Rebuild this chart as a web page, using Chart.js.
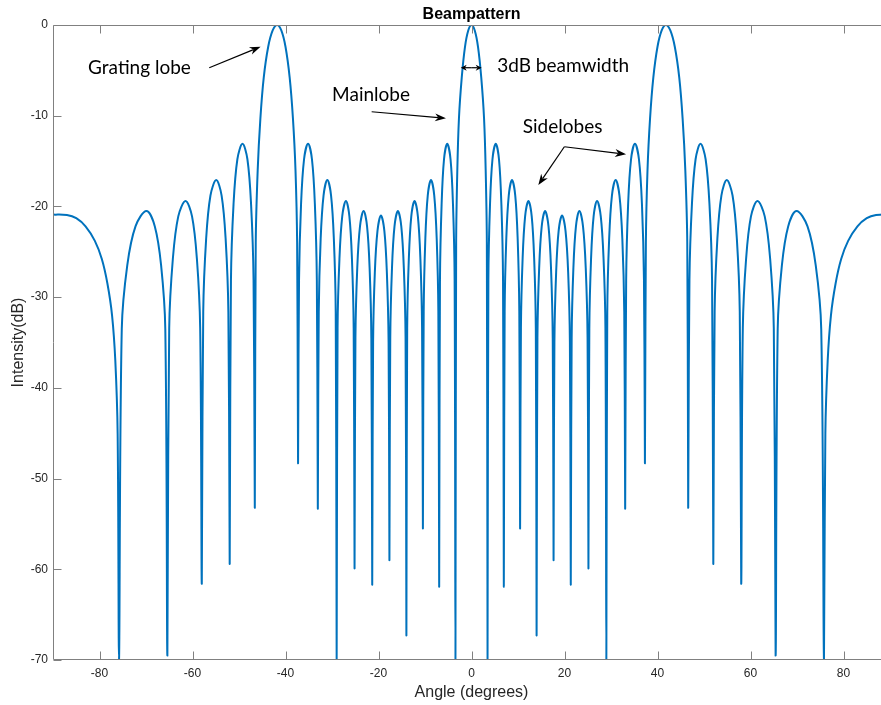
<!DOCTYPE html>
<html>
<head>
<meta charset="utf-8">
<script src="https://cdn.jsdelivr.net/npm/chart.js@4.4.1/dist/chart.umd.min.js"></script>
<style>
  html, body { margin: 0; padding: 0; background: #fff; overflow: hidden; }
  #wrap { position: relative; width: 890px; height: 705px; }
</style>
</head>
<body>
<div id="wrap"><canvas id="beamChart"></canvas></div>
<script>
// beam pattern, lobe by lobe (angle in degrees, level in dB)
const angleDeg = [
  -90, -87, -85, -83, -81, -79.5, -78.3, -77.3, -76.6, -76.1, -75.8,
  -75.21, -74.03, -72.26, -69.9, -68.1, -66.75, -65.85, -65.4,
  -65.01, -64.23, -63.06, -61.5, -60.1, -59.05, -58.35, -58.0,
  -57.69, -57.07, -56.14, -54.9, -53.74, -52.87, -52.29, -52.0,
  -51.73, -51.18, -50.35, -49.25, -48.19, -47.4, -46.87, -46.6,
  -46.4, -45.98, -45.4, -44.68, -43.72, -42.76, -41.8, -40.9, -40.0, -39.1, -38.4, -37.85, -37.5, -37.3,
  -37.09, -36.66, -36.01, -35.15, -34.31, -33.68, -33.26, -33.05,
  -32.85, -32.44, -31.82, -31.0, -30.2, -29.6, -29.2, -29.0,
  -28.8, -28.4, -27.8, -27.0, -26.26, -25.71, -25.34, -25.15,
  -24.96, -24.57, -23.98, -23.2, -22.46, -21.91, -21.54, -21.35,
  -21.16, -20.79, -20.22, -19.47, -18.74, -18.2, -17.83, -17.65,
  -17.47, -17.1, -16.56, -15.83, -15.1, -14.55, -14.18, -14.0,
  -13.83, -13.48, -12.95, -12.25, -11.53, -10.99, -10.63, -10.45,
  -10.28, -9.93, -9.41, -8.71, -8.01, -7.48, -7.13, -6.95,
  -6.78, -6.43, -5.91, -5.22, -4.51, -3.98, -3.63, -3.45,
  -3.3, -3.05, -2.7, -2.1, -1.4, -0.7, 0, 0.7, 1.4, 2.1, 2.7, 3.05, 3.3,
  3.45, 3.63, 3.98, 4.51, 5.22, 5.91, 6.43, 6.78,
  6.95, 7.13, 7.48, 8.01, 8.71, 9.41, 9.93, 10.28,
  10.45, 10.63, 10.99, 11.53, 12.25, 12.95, 13.48, 13.83,
  14.0, 14.18, 14.55, 15.1, 15.83, 16.56, 17.1, 17.47,
  17.65, 17.83, 18.2, 18.74, 19.47, 20.22, 20.79, 21.16,
  21.35, 21.54, 21.91, 22.46, 23.2, 23.98, 24.57, 24.96,
  25.15, 25.34, 25.71, 26.26, 27.0, 27.8, 28.4, 28.8,
  29.0, 29.2, 29.6, 30.2, 31.0, 31.82, 32.44, 32.85,
  33.05, 33.26, 33.68, 34.31, 35.15, 36.01, 36.66, 37.09,
  37.3, 37.5, 37.85, 38.4, 39.1, 40.0, 40.9, 41.8, 42.76, 43.72, 44.68, 45.4, 45.98, 46.4,
  46.6, 46.87, 47.4, 48.19, 49.25, 50.35, 51.18, 51.73,
  52.0, 52.29, 52.87, 53.74, 54.9, 56.14, 57.07, 57.69,
  58.0, 58.35, 59.05, 60.1, 61.5, 63.06, 64.23, 65.01,
  65.4, 65.85, 66.75, 68.1, 69.9, 72.26, 74.03, 75.21,
  75.8, 76.1, 76.6, 77.3, 78.3, 79.5, 81, 83, 85, 87, 90
];
const intensityDb = [
  -20.9, -20.95, -21.3, -22.2, -23.8, -25.8, -28.5, -32, -37, -45, -70,
  -33.5, -26.5, -22.2, -20.5, -22.2, -26.5, -33.5, -69.5,
  -33.4, -25.8, -21.1, -19.4, -21.1, -25.8, -33.4, -61.6,
  -31.6, -23.6, -18.8, -17.1, -18.8, -23.6, -31.6, -59.4,
  -28.1, -19.8, -14.8, -13.1, -14.8, -19.8, -28.1, -53.2,
  -24, -16, -10.3, -5.8, -2.4, -0.6, 0, -0.6, -2.4, -5.8, -10.3, -16, -24, -48.3,
  -28.1, -19.8, -14.8, -13.1, -14.8, -19.8, -28.1, -53.3,
  -31.6, -23.6, -18.8, -17.1, -18.8, -23.6, -31.6, -70,
  -33.4, -25.8, -21.1, -19.4, -21.1, -25.8, -33.4, -59.9,
  -34.5, -26.8, -22.2, -20.5, -22.2, -26.8, -34.5, -61.7,
  -35.0, -27.3, -22.7, -21.0, -22.7, -27.3, -35.0, -59.0,
  -34.5, -26.8, -22.2, -20.5, -22.2, -26.8, -34.5, -67.3,
  -33.4, -25.8, -21.1, -19.4, -21.1, -25.8, -33.4, -55.5,
  -31.6, -23.6, -18.8, -17.1, -18.8, -23.6, -31.6, -61.9,
  -28.1, -19.8, -14.8, -13.1, -14.8, -19.8, -28.1, -70,
  -24, -16, -10.3, -5.8, -2.4, -0.6, 0, -0.6, -2.4, -5.8, -10.3, -16, -24,
  -70, -28.1, -19.8, -14.8, -13.1, -14.8, -19.8, -28.1,
  -61.9, -31.6, -23.6, -18.8, -17.1, -18.8, -23.6, -31.6,
  -55.5, -33.4, -25.8, -21.1, -19.4, -21.1, -25.8, -33.4,
  -67.3, -34.5, -26.8, -22.2, -20.5, -22.2, -26.8, -34.5,
  -59.0, -35.0, -27.3, -22.7, -21.0, -22.7, -27.3, -35.0,
  -61.7, -34.5, -26.8, -22.2, -20.5, -22.2, -26.8, -34.5,
  -59.9, -33.4, -25.8, -21.1, -19.4, -21.1, -25.8, -33.4,
  -70, -31.6, -23.6, -18.8, -17.1, -18.8, -23.6, -31.6,
  -53.3, -28.1, -19.8, -14.8, -13.1, -14.8, -19.8, -28.1,
  -48.3, -24, -16, -10.3, -5.8, -2.4, -0.6, 0, -0.6, -2.4, -5.8, -10.3, -16, -24,
  -53.2, -28.1, -19.8, -14.8, -13.1, -14.8, -19.8, -28.1,
  -59.4, -31.6, -23.6, -18.8, -17.1, -18.8, -23.6, -31.6,
  -61.6, -33.4, -25.8, -21.1, -19.4, -21.1, -25.8, -33.4,
  -69.5, -33.5, -26.5, -22.2, -20.5, -22.2, -26.5, -33.5,
  -70, -45, -37, -32, -28.5, -25.8, -23.8, -22.2, -21.3, -20.95, -20.9
];

const xTickValues = [-80, -60, -40, -20, 0, 20, 40, 60, 80];
const yTickValues = [0, -10, -20, -30, -40, -50, -60, -70];

// text notes (centre angle, baseline level) and their arrows
const noteText = ['Grating lobe', 'Mainlobe', '3dB beamwidth', 'Sidelobes'];
const noteAngle = [-71.4, -21.6, 19.7, 19.6];
const noteDb = [-5.35, -8.38, -5.15, -11.94];
const arrowFromAngle = [-56.4, -21.47, 19.97, 19.97];
const arrowFromDb = [-4.71, -9.56, -13.42, -13.42];
const arrowToAngle = [-45.36, -5.49, 14.37, 33.24];
const arrowToDb = [-2.39, -10.29, -17.64, -14.25];
const widthArrowAngle = [-2.32, 2.19];
const widthArrowDb = -4.71;

const axisFont = '"Liberation Sans", Arial, Helvetica, sans-serif';
const noteFont = 'Lato, "Open Sans", sans-serif';

function drawArrow(ctx, x1, y1, x2, y2, head, half) {
    const a = Math.atan2(y2 - y1, x2 - x1);
    const c = Math.cos(a), s = Math.sin(a);
    ctx.beginPath();
    ctx.moveTo(x1, y1);
    ctx.lineTo(x2 - head * 0.7 * c, y2 - head * 0.7 * s);
    ctx.stroke();
    ctx.beginPath();
    ctx.moveTo(x2, y2);
    ctx.lineTo(x2 - head * c + half * s, y2 - head * s - half * c);
    ctx.lineTo(x2 - head * 0.7 * c, y2 - head * 0.7 * s);
    ctx.lineTo(x2 - head * c - half * s, y2 - head * s + half * c);
    ctx.closePath();
    ctx.fill();
}

const matlabFrame = {
    id: 'matlabFrame',
    afterDatasetsDraw(chart) {
        const { ctx, chartArea: area, scales: { x, y } } = chart;
        const L = Math.round(area.left) + 0.5;
        const R = Math.round(area.right) - 0.5;
        const T = Math.round(area.top) + 0.5;
        const B = Math.round(area.bottom) - 0.5;

        ctx.save();
        // box and inward ticks
        ctx.strokeStyle = '#808080';
        ctx.lineWidth = 1;
        ctx.beginPath();
        ctx.rect(L, T, R - L, B - T);
        xTickValues.forEach(v => {
            const px = Math.round(x.getPixelForValue(v)) + 0.5;
            ctx.moveTo(px, B); ctx.lineTo(px, B - 8);
            ctx.moveTo(px, T); ctx.lineTo(px, T + 8);
        });
        yTickValues.forEach(v => {
            const py = Math.round(y.getPixelForValue(v)) + 0.5;
            ctx.moveTo(L, py); ctx.lineTo(L + 8, py);
            ctx.moveTo(R, py); ctx.lineTo(R - 8, py);
        });
        ctx.stroke();

        // title
        ctx.fillStyle = '#000';
        ctx.font = 'bold 16px ' + axisFont;
        ctx.textAlign = 'center';
        ctx.textBaseline = 'alphabetic';
        ctx.fillText('Beampattern', (area.left + area.right) / 2, 19);

        // notes
        ctx.font = '19px ' + noteFont;
        noteText.forEach((t, i) => {
            ctx.fillText(t, x.getPixelForValue(noteAngle[i]), y.getPixelForValue(noteDb[i]));
        });

        ctx.strokeStyle = '#000';
        ctx.lineWidth = 1.2;
        arrowFromAngle.forEach((a, i) => {
            drawArrow(ctx,
                x.getPixelForValue(a), y.getPixelForValue(arrowFromDb[i]),
                x.getPixelForValue(arrowToAngle[i]), y.getPixelForValue(arrowToDb[i]), 11, 4);
        });
        const wy = y.getPixelForValue(widthArrowDb);
        const wl = x.getPixelForValue(widthArrowAngle[0]);
        const wr = x.getPixelForValue(widthArrowAngle[1]);
        const mid = (wl + wr) / 2;
        drawArrow(ctx, mid, wy, wl, wy, 6, 3);
        drawArrow(ctx, mid, wy, wr, wy, 6, 3);
        ctx.restore();
    }
};

new Chart(document.getElementById('beamChart'), {
    type: 'line',
    data: {
        datasets: [{
            data: angleDeg.map((a, i) => ({ x: a, y: intensityDb[i] })),
            borderColor: '#0072BD',
            borderWidth: 2,
            pointRadius: 0,
            fill: false,
            tension: 0.35
        }]
    },
    options: {
        responsive: true,
        maintainAspectRatio: false,
        animation: false,
        layout: { padding: { top: 25 } },
        plugins: {
            legend: { display: false },
            tooltip: { enabled: false }
        },
        scales: {
            x: {
                type: 'linear',
                min: -90,
                max: 90,
                afterBuildTicks: s => { s.ticks = xTickValues.map(v => ({ value: v })); },
                afterFit: s => { s.height = 45; },
                grid: { display: false, drawTicks: false, tickLength: 0 },
                border: { display: false },
                ticks: {
                    padding: 6, autoSkip: false, maxRotation: 0, color: '#262626',
                    font: { family: axisFont, size: 12 }
                },
                title: {
                    display: true, text: 'Angle (degrees)', color: '#262626',
                    font: { family: axisFont, size: 16 },
                    padding: { top: 0, bottom: 3 }
                }
            },
            y: {
                type: 'linear',
                min: -70,
                max: 0,
                afterBuildTicks: s => { s.ticks = yTickValues.map(v => ({ value: v })); },
                afterFit: s => { s.width = 53; },
                grid: { display: false, drawTicks: false, tickLength: 0 },
                border: { display: false },
                ticks: {
                    padding: 5, color: '#262626',
                    font: { family: axisFont, size: 12 }
                },
                title: {
                    display: true, text: 'Intensity(dB)', color: '#262626',
                    font: { family: axisFont, size: 16 },
                    padding: { top: 9, bottom: 0 }
                }
            }
        }
    },
    plugins: [matlabFrame]
});
</script>
</body>
</html>
